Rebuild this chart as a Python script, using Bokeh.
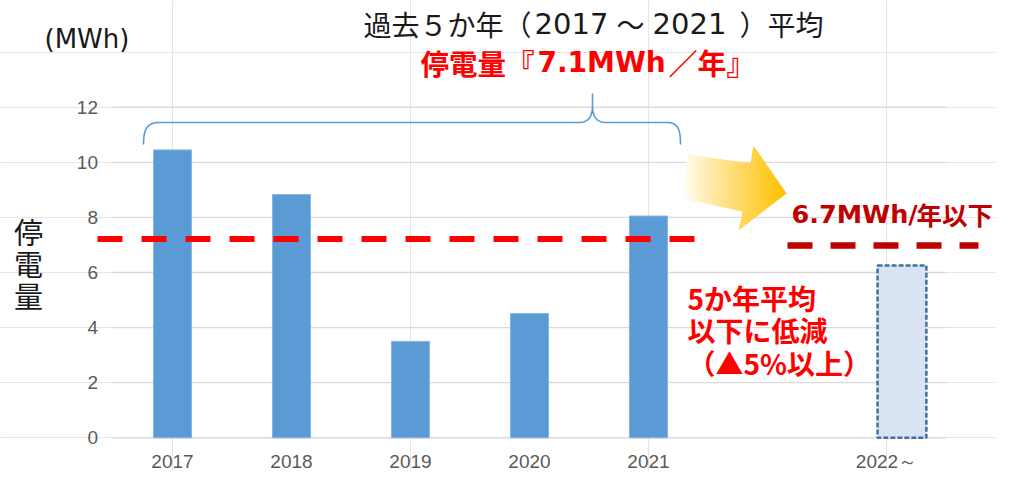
import numpy as np
from bokeh.plotting import figure
from bokeh.models import LinearAxis, FixedTicker, Range1d
from bokeh.core.properties import value
from bokeh.embed import file_html
from bokeh.resources import INLINE

# ---------------- data ----------------
years = ["2017", "2018", "2019", "2020", "2021"]
outage_mwh = [10.45, 8.83, 3.50, 4.51, 8.05]
target_label = "2022～"
target_value = 6.25
avg_line_level = 7.22
target_line_level = 6.98
y_ticks = [0, 2, 4, 6, 8, 10, 12]

title1_parts = ["過去５か年（", "2017", "～", "2021", "）平均"]
title2_parts = ["停電量『", "7.1MWh", "／年』"]
unit_label = "(MWh)"
y_title_chars = ["停", "電", "量"]
target_parts = ["6.7MWh/", "年以下"]
note_lines = ["5か年平均", "以下に低減", "（▲5%以上）"]

# ---------------- geometry helpers (reference pixel -> data) ----------------
W, H = 995, 471
PX0, PDX = 172.0, 119.0
PY0, PDY = 437.3, 27.55


def dx(X):
    return (X - PX0) / PDX


def dy(Y):
    return (PY0 - Y) / PDY


def dxs(a):
    return [dx(v) for v in a]


def dys(a):
    return [dy(v) for v in a]


JP = "Noto Sans CJK JP"
LAT = "DejaVu Sans"

p = figure(width=W, height=H, output_backend="svg", toolbar_location=None,
           x_range=Range1d(dx(0), dx(W)), y_range=Range1d(dy(H), dy(0)),
           x_axis_location=None, y_axis_location=None, min_border=0)
p.outline_line_color = None
p.background_fill_color = "white"
p.border_fill_color = "white"

n_cat = len(years) + 2
x_years = list(range(len(years)))
x_target = n_cat - 1

# axes at fixed locations
yaxis = LinearAxis(fixed_location=-0.5, ticker=FixedTicker(ticks=y_ticks),
                   axis_line_color=None, major_tick_line_color=None,
                   minor_tick_line_color=None, major_tick_in=0, major_tick_out=0,
                   major_label_standoff=15,
                   major_label_text_font="Liberation Sans",
                   major_label_text_font_size="19px",
                   major_label_text_color="#595959")
p.add_layout(yaxis, "left")

overrides = {i: y for i, y in enumerate(years)}
overrides[len(years)] = ""
overrides[x_target] = target_label
xaxis = LinearAxis(fixed_location=0, ticker=FixedTicker(ticks=list(range(n_cat))),
                   major_label_overrides=overrides,
                   axis_line_color=None, major_tick_line_color=None,
                   minor_tick_line_color=None, major_tick_in=0, major_tick_out=0,
                   major_label_standoff=13,
                   major_label_text_font="Liberation Sans",
                   major_label_text_font_size="19px",
                   major_label_text_color="#595959")
p.add_layout(xaxis, "below")

# gridlines
p.segment(x0=[-0.5] * len(y_ticks), x1=[n_cat - 0.5] * len(y_ticks),
          y0=y_ticks, y1=y_ticks, line_color="#D9D9D9", line_width=1.3)

# bars
p.vbar(x=x_years, top=outage_mwh, bottom=0, width=0.32,
       fill_color="#5B9BD5", line_color="#8AB4E0", line_width=1)

# target box
p.vbar(x=[x_target + 0.13], top=[target_value], bottom=0, width=0.41,
       fill_color="#DAE3F3", line_color="#41719C", line_width=2.5, line_dash="5 2")

# average dashed line
p.line(x=[dx(97), dx(695)], y=[avg_line_level, avg_line_level],
       line_color="#FF0000", line_width=6, line_dash="25 19")

# target dashed line
p.line(x=[dx(787), dx(978)], y=[target_line_level, target_line_level],
       line_color="#C00000", line_width=6.5, line_dash="25 18")


# bracket
def cubic(p0, p1, p2, p3, n=24):
    t = np.linspace(0, 1, n)
    pts = []
    for a in range(2):
        pts.append((1 - t) ** 3 * p0[a] + 3 * (1 - t) ** 2 * t * p1[a]
                   + 3 * (1 - t) * t ** 2 * p2[a] + t ** 3 * p3[a])
    return list(pts[0]), list(pts[1])


bx, by = [], []
for seg in [((143, 144), (143, 128), (147, 122), (159, 122)),
            ((578, 122), (588, 122), (592, 116), (592, 105))]:
    sx, sy = cubic(*seg)
    bx += sx
    by += sy
bx += [592, 592]
by += [93, 105]
for seg in [((592, 105), (592, 116), (596, 122), (606, 122)),
            ((666, 122), (677, 122), (680, 128), (680, 144))]:
    sx, sy = cubic(*seg)
    bx += sx
    by += sy
p.line(x=dxs(bx), y=dys(by), line_color="#5B9BD5", line_width=1.6)

# gradient arrow
arrow = [(687, 154), (750, 163), (753, 145), (786, 193), (738, 230), (742, 211), (682, 198)]


def clip_half(pts, keep, inter):
    out = []
    for i in range(len(pts)):
        cur, prev = pts[i], pts[i - 1]
        if keep(cur):
            if not keep(prev):
                out.append(inter(prev, cur))
            out.append(cur)
        elif keep(prev):
            out.append(inter(prev, cur))
    return out


def ix(xc):
    def f(a, b):
        t = (xc - a[0]) / (b[0] - a[0])
        return (xc, a[1] + t * (b[1] - a[1]))
    return f


xmin, xmax = 682, 786
N = 40
axs, ays, acol = [], [], []
for k in range(N):
    a = xmin + (xmax - xmin) * k / N
    b = xmin + (xmax - xmin) * (k + 1) / N
    pts = clip_half(arrow, lambda q: q[0] >= a - 0.3, ix(a - 0.3))
    if pts:
        pts = clip_half(pts, lambda q: q[0] <= b + 0.3, ix(b + 0.3))
    if len(pts) < 3:
        continue
    t = ((k + 0.5) / N) ** 0.85
    r, g, bl = 255, int(round(255 - t * (255 - 192))), int(round(255 - t * 255))
    axs.append(dxs([q[0] for q in pts]))
    ays.append(dys([q[1] for q in pts]))
    acol.append("#%02X%02X%02X" % (r, g, bl))
p.patches(xs=axs, ys=ays, fill_color=acol, line_color=None)


# texts
def txt(X, Y, s, font, size, color, bold=False, align="left"):
    p.text(x=[dx(X)], y=[dy(Y)], text=[s], text_font=value(font),
           text_font_size="%.1fpx" % size,
           text_font_style="bold" if bold else "normal",
           text_color=color, text_align=align, text_baseline="middle")


BLACK = "#1A1A1A"
# title line 1
T1 = 23
txt(363, T1, title1_parts[0], JP, 28, BLACK)
txt(571, T1, title1_parts[1], LAT, 29, BLACK, align="center")
txt(630, T1, title1_parts[2], JP, 28, BLACK, align="center")
txt(689, T1, title1_parts[3], LAT, 29, BLACK, align="center")
txt(823, T1, title1_parts[4], JP, 28, BLACK, align="right")
# title line 2
T2 = 61.5
txt(420, T2, title2_parts[0], JP, 28.5, "#FF0000", bold=True)
txt(537, T2, title2_parts[1], LAT, 28, "#FF0000", bold=True)
txt(668, T2, title2_parts[2], JP, 29, "#FF0000", bold=True)
# unit
txt(44, 38, unit_label, LAT, 26, BLACK)
# y title
for ch, yy in zip(y_title_chars, [230, 262.5, 294.5]):
    txt(28, yy, ch, JP, 29, BLACK, align="center")
# target text
txt(791, 213, target_parts[0], LAT, 25.5, "#C00000", bold=True)
txt(916, 213, target_parts[1], JP, 25.5, "#C00000", bold=True)
# note
for line, yy in zip(note_lines, [297, 329, 362]):
    txt(687, yy, line, JP, 28, "#FF0000", bold=True)

open("out.html", "w").write(file_html(p, INLINE))
